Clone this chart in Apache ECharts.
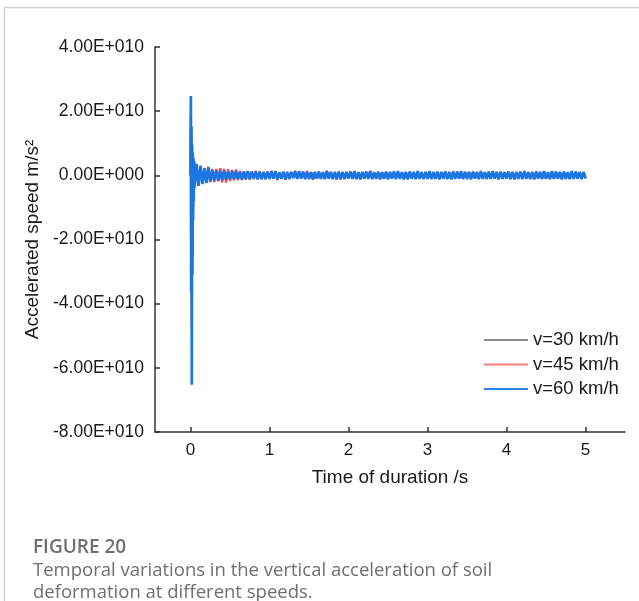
<!DOCTYPE html>
<html>
<head>
<meta charset="utf-8">
<script src="https://cdn.jsdelivr.net/npm/echarts@6/dist/echarts.min.js"></script>
<style>
html,body{margin:0;padding:0;background:#fff;}
#chart{width:639px;height:601px;}
</style>
</head>
<body>
<div id="chart"></div>
<script>
// ---- Data (acceleration in units of 1E10 m/s^2) ----
const seriesNames = ['v=30 km/h', 'v=45 km/h', 'v=60 km/h'];
const xTickValues = [0, 1, 2, 3, 4, 5];
const xTickLabels = ['0', '1', '2', '3', '4', '5'];
const yTickValues = [-8, -6, -4, -2, 0, 2, 4];
const yTickLabels = ['-8.00E+010', '-6.00E+010', '-4.00E+010', '-2.00E+010', '0.00E+000', '2.00E+010', '4.00E+010'];

const sampleTimes = [
  0,0.004,0.008,0.012,0.016,0.02,0.024,0.028,0.032,0.036,0.04,0.045,
  0.05,0.075,0.1,0.125,0.15,0.175,0.2,0.225,0.25,0.275,0.3,0.325,0.35,0.375,0.4,0.425,0.45,0.475,
  0.5,0.525,0.55,0.575,0.6,0.625,0.65,0.675,0.7,0.725,0.75,0.775,0.8,0.825,0.85,0.875,0.9,0.925,0.95,0.975,
  1,1.025,1.05,1.075,1.1,1.125,1.15,1.175,1.2,1.225,1.25,1.275,1.3,1.325,1.35,1.375,1.4,1.425,1.45,1.475,
  1.5,1.525,1.55,1.575,1.6,1.625,1.65,1.675,1.7,1.725,1.75,1.775,1.8,1.825,1.85,1.875,1.9,1.925,1.95,1.975,
  2,2.025,2.05,2.075,2.1,2.125,2.15,2.175,2.2,2.225,2.25,2.275,2.3,2.325,2.35,2.375,2.4,2.425,2.45,2.475,
  2.5,2.525,2.55,2.575,2.6,2.625,2.65,2.675,2.7,2.725,2.75,2.775,2.8,2.825,2.85,2.875,2.9,2.925,2.95,2.975,
  3,3.025,3.05,3.075,3.1,3.125,3.15,3.175,3.2,3.225,3.25,3.275,3.3,3.325,3.35,3.375,3.4,3.425,3.45,3.475,
  3.5,3.525,3.55,3.575,3.6,3.625,3.65,3.675,3.7,3.725,3.75,3.775,3.8,3.825,3.85,3.875,3.9,3.925,3.95,3.975,
  4,4.025,4.05,4.075,4.1,4.125,4.15,4.175,4.2,4.225,4.25,4.275,4.3,4.325,4.35,4.375,4.4,4.425,4.45,4.475,
  4.5,4.525,4.55,4.575,4.6,4.625,4.65,4.675,4.7,4.725,4.75,4.775,4.8,4.825,4.85,4.875,4.9,4.925,4.95,4.975,
  5
];

const speed30Values = [
  0,1.5,-2.5,1.0,-4.0,0.7,-2.0,0.5,-1.0,0.4,-0.6,0.35,
  -0.3,0.28,-0.25,0.22,-0.2,0.18,-0.17,0.16,-0.15,0.14,-0.13,0.12,-0.12,0.11,-0.11,0.1,-0.1,0.1,
  -0.09,0.1,-0.08,0.09,-0.1,0.08,-0.09,0.08,-0.07,0.09,-0.08,0.09,-0.07,0.08,-0.08,0.07,-0.08,0.09,-0.07,0.08,
  -0.07,0.08,-0.06,0.07,-0.08,0.06,-0.07,0.08,-0.06,0.07,-0.08,0.07,-0.06,0.08,-0.07,0.06,-0.08,0.07,-0.06,0.07,
  -0.08,0.06,-0.07,0.08,-0.06,0.07,-0.08,0.06,-0.07,0.08,-0.06,0.07,-0.07,0.08,-0.06,0.07,-0.08,0.06,-0.07,0.08,
  -0.06,0.07,-0.08,0.06,-0.07,0.08,-0.06,0.07,-0.08,0.06,-0.07,0.08,-0.06,0.07,-0.08,0.07,-0.06,0.08,-0.07,0.06,
  -0.07,0.06,-0.08,0.07,-0.06,0.08,-0.07,0.06,-0.08,0.07,-0.06,0.08,-0.07,0.06,-0.08,0.07,-0.06,0.08,-0.07,0.06,
  -0.08,0.07,-0.06,0.08,-0.07,0.06,-0.08,0.07,-0.06,0.08,-0.07,0.06,-0.08,0.07,-0.06,0.08,-0.07,0.06,-0.08,0.07,
  -0.06,0.08,-0.07,0.06,-0.08,0.07,-0.06,0.08,-0.07,0.06,-0.08,0.07,-0.06,0.08,-0.07,0.06,-0.08,0.07,-0.06,0.08,
  -0.07,0.08,-0.06,0.07,-0.08,0.06,-0.07,0.08,-0.06,0.07,-0.08,0.06,-0.07,0.08,-0.06,0.07,-0.08,0.06,-0.07,0.08,
  -0.08,0.06,-0.07,0.08,-0.06,0.07,-0.08,0.06,-0.07,0.08,-0.06,0.07,-0.08,0.06,-0.07,0.08,-0.06,0.07,-0.08,0.06,
  -0.07
];

const speed45Values = [
  0,1.9,-3.0,1.2,-4.8,0.8,-2.6,0.6,-1.2,0.5,-0.7,0.4,
  -0.35,0.33,-0.3,0.28,-0.25,0.2,-0.22,0.24,-0.21,0.2,-0.21,0.2,-0.19,0.22,-0.22,0.2,-0.23,0.19,
  -0.18,0.17,-0.16,0.18,-0.15,0.14,-0.15,0.13,-0.14,0.12,-0.14,0.13,-0.12,0.14,-0.11,0.13,-0.12,0.11,-0.13,0.12,
  -0.1,0.14,-0.09,0.1,-0.15,0.08,-0.1,0.09,-0.14,0.1,-0.09,0.1,-0.08,0.15,-0.1,0.09,-0.08,0.1,-0.09,0.14,
  -0.09,0.1,-0.14,0.08,-0.1,0.09,-0.08,0.1,-0.09,0.14,-0.1,0.08,-0.09,0.1,-0.08,0.09,-0.14,0.1,-0.08,0.09,
  -0.08,0.1,-0.09,0.08,-0.1,0.09,-0.08,0.09,-0.1,0.08,-0.09,0.14,-0.08,0.1,-0.09,0.08,-0.1,0.09,-0.08,0.1,
  -0.09,0.08,-0.1,0.09,-0.08,0.1,-0.09,0.08,-0.13,0.09,-0.08,0.1,-0.09,0.08,-0.1,0.09,-0.08,0.1,-0.09,0.08,
  -0.1,0.09,-0.08,0.1,-0.09,0.08,-0.1,0.09,-0.08,0.1,-0.09,0.08,-0.1,0.13,-0.08,0.09,-0.1,0.08,-0.09,0.1,
  -0.08,0.1,-0.09,0.08,-0.1,0.09,-0.08,0.1,-0.09,0.08,-0.1,0.09,-0.08,0.1,-0.09,0.08,-0.1,0.09,-0.08,0.1,
  -0.09,0.08,-0.1,0.09,-0.08,0.1,-0.09,0.08,-0.1,0.09,-0.08,0.1,-0.09,0.08,-0.1,0.09,-0.08,0.1,-0.09,0.08,
  -0.1,0.09,-0.08,0.1,-0.09,0.08,-0.1,0.09,-0.08,0.1,-0.09,0.08,-0.1,0.09,-0.08,0.1,-0.09,0.08,-0.1,0.09,
  -0.08
];

const speed60Values = [
  0,2.47,-3.62,1.52,-6.53,0.95,-3.1,0.7,-1.4,0.55,-0.8,0.45,
  -0.38,0.36,-0.33,0.3,-0.27,0.22,-0.24,0.26,-0.2,0.17,-0.16,0.15,-0.17,0.14,-0.15,0.16,-0.13,0.12,
  -0.12,0.13,-0.11,0.14,-0.12,0.1,-0.13,0.12,-0.11,0.13,-0.12,0.11,-0.1,0.12,-0.13,0.11,-0.12,0.1,-0.11,0.12,
  -0.11,0.12,-0.1,0.13,-0.12,0.09,-0.11,0.12,-0.13,0.1,-0.12,0.11,-0.09,0.12,-0.11,0.13,-0.1,0.12,-0.12,0.1,
  -0.12,0.1,-0.13,0.11,-0.1,0.12,-0.11,0.09,-0.12,0.13,-0.1,0.11,-0.12,0.1,-0.13,0.12,-0.11,0.1,-0.12,0.11,
  -0.1,0.12,-0.11,0.13,-0.12,0.1,-0.13,0.11,-0.1,0.12,-0.11,0.13,-0.12,0.09,-0.11,0.12,-0.13,0.1,-0.11,0.12,
  -0.13,0.11,-0.1,0.12,-0.12,0.13,-0.11,0.1,-0.12,0.11,-0.13,0.12,-0.1,0.11,-0.12,0.13,-0.11,0.1,-0.12,0.11,
  -0.11,0.13,-0.12,0.1,-0.11,0.12,-0.13,0.11,-0.1,0.12,-0.12,0.11,-0.13,0.1,-0.11,0.12,-0.1,0.13,-0.12,0.11,
  -0.12,0.11,-0.13,0.12,-0.1,0.11,-0.12,0.13,-0.11,0.1,-0.12,0.12,-0.11,0.13,-0.1,0.11,-0.13,0.12,-0.11,0.1,
  -0.1,0.12,-0.12,0.11,-0.13,0.1,-0.11,0.12,-0.12,0.13,-0.11,0.1,-0.12,0.11,-0.13,0.12,-0.1,0.11,-0.12,0.13,
  -0.11,0.1,-0.12,0.13,-0.11,0.12,-0.1,0.11,-0.13,0.12,-0.11,0.1,-0.12,0.13,-0.11,0.12,-0.1,0.11,-0.12,0.11,
  -0.1
];

const seriesColors = ['#2e2e2e', '#f04a4a', '#1a76e2'];
const legendColors = ['#8c8c8c', '#ff7e7e', '#2b87e6'];
const seriesWidths = [2.0, 2.2, 2.7];

// ---- Build ----
function pairs(vals) {
  const n = Math.min(sampleTimes.length, vals.length);
  const out = [];
  for (let i = 0; i < n; i++) out.push([sampleTimes[i], vals[i]]);
  return out;
}
const allValues = [speed30Values, speed45Values, speed60Values];
const font = "'Liberation Sans', Arial, sans-serif";
const capFont = "'Open Sans', 'Noto Sans', sans-serif";

const chart = echarts.init(document.getElementById('chart'), null, {renderer: 'canvas'});
chart.setOption({
  animation: false,
  backgroundColor: '#ffffff',
  grid: {left: 155, right: 14, top: 47, bottom: 169, containLabel: false},
  xAxis: {
    type: 'value', min: -0.45, max: 5.5,
    name: 'Time of duration /s', nameLocation: 'middle', nameGap: 36,
    nameTextStyle: {fontFamily: font, fontSize: 19, color: '#1a1a1a'},
    axisLine: {show: true, onZero: false, lineStyle: {color: '#333', width: 1.5}},
    axisTick: {show: true, inside: true, length: 5, customValues: xTickValues, lineStyle: {color: '#333', width: 1.5}},
    axisLabel: {customValues: xTickValues, margin: 10, fontFamily: font, fontSize: 17, color: '#1a1a1a',
      formatter: v => { const i = xTickValues.indexOf(Math.round(v)); return i >= 0 ? xTickLabels[i] : ''; }},
    splitLine: {show: false}
  },
  yAxis: {
    type: 'value', min: -8, max: 4, interval: 2,
    name: 'Accelerated speed m/s\u00B2', nameLocation: 'middle', nameGap: 110, nameRotate: 90,
    nameTextStyle: {fontFamily: font, fontSize: 19, color: '#1a1a1a'},
    axisLine: {show: true, onZero: false, lineStyle: {color: '#333', width: 1.5}},
    axisTick: {show: true, inside: true, length: 5, lineStyle: {color: '#333', width: 1.5}},
    axisLabel: {margin: 11, fontFamily: font, fontSize: 17.5, color: '#1a1a1a',
      formatter: v => { const i = yTickValues.indexOf(Math.round(v)); return i >= 0 ? yTickLabels[i] : ''; }},
    splitLine: {show: false}
  },
  legend: {
    orient: 'vertical', left: 484, top: 328, padding: 0, icon: 'rect', itemWidth: 44, itemHeight: 2, itemGap: 0.5,
    textStyle: {fontFamily: font, fontSize: 18.5, color: '#1a1a1a', lineHeight: 24},
    data: seriesNames.map((n, i) => ({name: n, itemStyle: {color: legendColors[i], borderWidth: 0}}))
  },
  series: seriesNames.map((n, i) => ({
    name: n, type: 'line', data: pairs(allValues[i]),
    symbol: 'none', showSymbol: false, sampling: false, clip: true,
    lineStyle: {color: seriesColors[i], width: seriesWidths[i]},
    itemStyle: {color: seriesColors[i]},
    emphasis: {disabled: true}
  })),
  graphic: [
    {type: 'line', shape: {x1: 4, y1: 7.5, x2: 639, y2: 7.5}, style: {stroke: '#d2d2d2', lineWidth: 1.5}, silent: true},
    {type: 'line', shape: {x1: 4.5, y1: 7, x2: 4.5, y2: 601}, style: {stroke: '#d2d2d2', lineWidth: 1.5}, silent: true},
    {type: 'text', left: 33, top: 538, style: {text: 'FIGURE 20', fontFamily: capFont, fontSize: 19, fontWeight: 600, fill: '#6f6f6f'}},
    {type: 'text', left: 33, top: 561, style: {text: 'Temporal variations in the vertical acceleration of soil', fontFamily: capFont, fontSize: 18.5, fill: '#6f6f6f'}},
    {type: 'text', left: 33, top: 583, style: {text: 'deformation at different speeds.', fontFamily: capFont, fontSize: 18.5, fill: '#6f6f6f'}}
  ]
});
</script>
</body>
</html>
